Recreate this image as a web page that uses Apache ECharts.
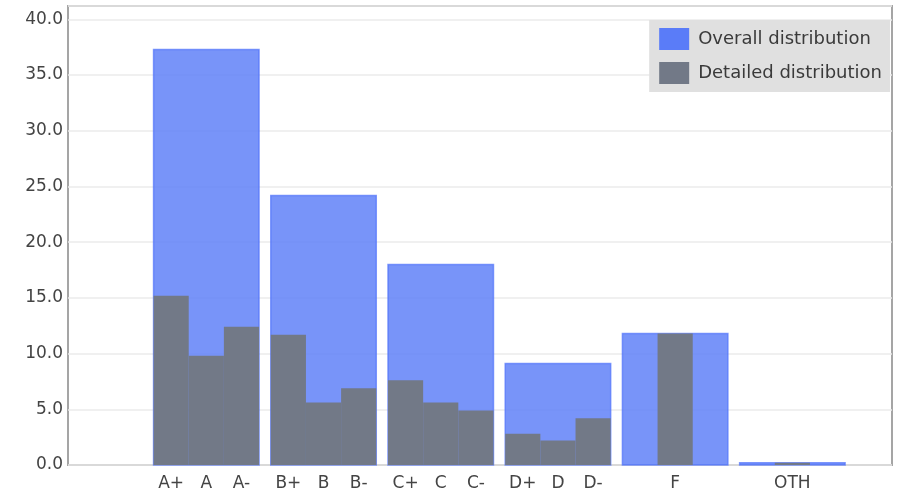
<!DOCTYPE html>
<html>
<head>
<meta charset="utf-8">
<script src="https://cdn.jsdelivr.net/npm/echarts@6/dist/echarts.min.js"></script>
<style>
html,body{margin:0;padding:0;background:#fff;}
#chart{width:901px;height:494px;}
</style>
</head>
<body>
<div id="chart"></div>
<script>
// ---- data ----
var groups = ['A', 'B', 'C', 'D', 'F', 'OTH'];
var overallValues = [37.3, 24.2, 18.0, 9.1, 11.8, 0.2];
var grades = ['A+', 'A', 'A-', 'B+', 'B', 'B-', 'C+', 'C', 'C-', 'D+', 'D', 'D-', 'F', 'OTH'];
var detailedValues = [15.2, 9.8, 12.4, 11.7, 5.6, 6.9, 7.6, 5.6, 4.9, 2.8, 2.2, 4.2, 11.8, 0.2];
var yTicks = [0, 5, 10, 15, 20, 25, 30, 35, 40];
var seriesNames = ['Overall distribution', 'Detailed distribution'];

// ---- layout constants (in x-axis units; one group = 1 unit) ----
var GROUP_W = 0.9, SUB_W = 0.3;

function groupOf(g) {
  for (var i = 0; i < groups.length; i++) {
    var G = groups[i];
    if (g === G || (G.length === 1 && g.charAt(0) === G)) return i;
  }
  return -1;
}
// sub positions derived from grade order inside each group
var gradePos = [];
(function () {
  var members = groups.map(function () { return []; });
  grades.forEach(function (g, i) { members[groupOf(g)].push(i); });
  members.forEach(function (list, gi) {
    var n = list.length;
    list.forEach(function (idx, k) {
      gradePos[idx] = gi + (k - (n - 1) / 2) * SUB_W;
    });
  });
})();

var overallData = overallValues.map(function (v, i) { return [i, v]; });
var detailedData = detailedValues.map(function (v, i) { return [gradePos[i], v]; });

function makeRender(width, opacity, stroke) {
  return function (params, api) {
    var x = api.value(0), y = api.value(1);
    var p0 = api.coord([x - width / 2, 0]);
    var p1 = api.coord([x + width / 2, y]);
    return {
      type: 'rect',
      shape: { x: p0[0], y: p1[1], width: p1[0] - p0[0], height: p0[1] - p1[1] },
      style: { fill: api.visual('color'), opacity: opacity, stroke: stroke, lineWidth: stroke ? 1.5 : 0 }
    };
  };
}

var chart = echarts.init(document.getElementById('chart'));
var FONT = 'DejaVu Sans';
chart.setOption({
  animation: false,
  textStyle: { fontFamily: FONT },
  grid: { left: 68, right: 9, top: 6, bottom: 29, show: true, borderColor: '#a5a5a5', borderWidth: 2, backgroundColor: '#fff' },
  legend: {
    orient: 'vertical', right: 11, top: 20,
    backgroundColor: '#e0e0e0', padding: [8, 8, 8, 10],
    itemWidth: 30, itemHeight: 22, itemGap: 12, icon: 'rect',
    textStyle: { fontFamily: FONT, fontSize: 18, color: '#3a3a3a', padding: [2, 0, 0, 4] },
    data: seriesNames
  },
  xAxis: {
    type: 'value', min: -1.18, max: 5.85,
    axisLine: { show: false }, axisTick: { show: false }, splitLine: { show: false },
    axisLabel: {
      customValues: gradePos,
      margin: 10, fontFamily: FONT, fontSize: 17, color: '#444',
      formatter: function (v) {
        for (var i = 0; i < gradePos.length; i++) if (Math.abs(gradePos[i] - v) < 1e-6) return grades[i];
        return '';
      }
    }
  },
  yAxis: {
    type: 'value', min: 0, max: 41.2, interval: 5,
    axisLine: { show: false }, axisTick: { show: false },
    splitLine: { lineStyle: { color: '#ebebeb', width: 1.5 } },
    axisLabel: {
      margin: 5, fontFamily: FONT, fontSize: 17, color: '#444', showMaxLabel: false,
      formatter: function (v) { return yTicks.indexOf(v) >= 0 ? v.toFixed(1) : ''; }
    }
  },
  series: [
    {
      name: seriesNames[0], type: 'custom', itemStyle: { color: '#5a7cf8' },
      renderItem: makeRender(GROUP_W, 0.82, 'rgba(80,115,250,0.85)'),
      encode: { x: 0, y: 1 }, data: overallData, z: 2
    },
    {
      name: seriesNames[1], type: 'custom', itemStyle: { color: '#727987' },
      renderItem: makeRender(SUB_W, 1, null),
      encode: { x: 0, y: 1 }, data: detailedData, z: 3
    }
  ]
});
</script>
</body>
</html>
